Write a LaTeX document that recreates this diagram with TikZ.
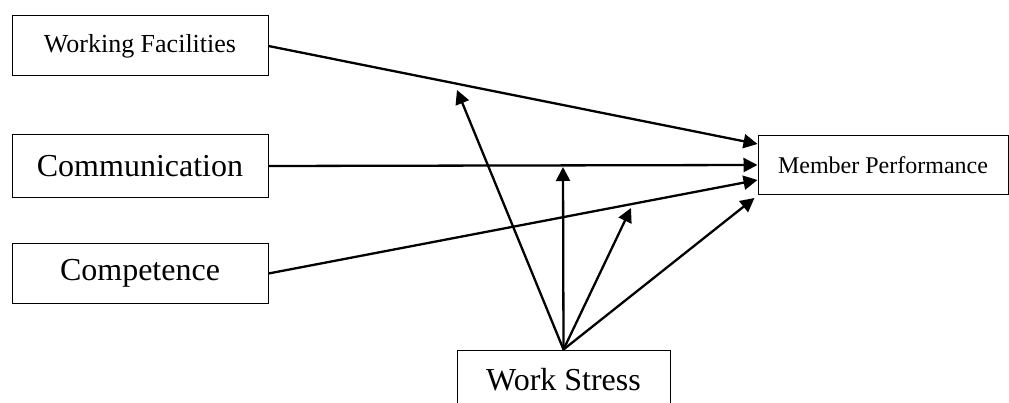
\documentclass[tikz,border=0pt]{standalone}
\usepackage{fontspec}
\setmainfont{Liberation Serif}
\usetikzlibrary{arrows.meta}

\begin{document}
\begin{tikzpicture}[x=1pt,y=-1pt,
		varbox/.style={draw,line width=1pt,inner sep=0pt,align=center},
		bigtext/.style={font=\fontsize{32}{38}\selectfont},
		path/.style={line width=2.3pt,-{Triangle[length=14pt,width=14pt]}}]
	\useasboundingbox (0,0) rectangle (1009,403);
	% variables
	\node[varbox,minimum width=256pt,minimum height=60pt,font=\fontsize{26}{31}\selectfont] (wf) at (140,46) {Working Facilities};
	\node[varbox,bigtext,minimum width=256pt,minimum height=63pt] (comm) at (140,166) {Communication};
	\node[varbox,bigtext,minimum width=256pt,minimum height=59pt] (comp) at (140,273.5) {Competence};
	\node[varbox,minimum width=250pt,minimum height=59pt,font=\fontsize{24}{29}\selectfont] (mp) at (883,165) {Member Performance};
	\node[varbox,bigtext,minimum width=213pt,minimum height=60pt] (ws) at (563.5,380) {Work Stress};
	% moderating ends
	\coordinate (m1) at (457,90);
	\coordinate (m2) at (563,167);
	\coordinate (m3) at (631,208);
	% direct paths
	\draw[path] (wf.east) -- ([yshift=21pt]mp.west);
	\draw[path] (comm.east) -- (mp.west);
	\draw[path] (comp.east) -- ([yshift=-15pt]mp.west);
	\draw[path] (ws.north) -- ([shift={(-3pt,-3pt)}]mp.south west);
	% moderation
	\draw[path] (ws.north) -- (m1);
	\draw[path] (ws.north) -- (m2);
	\draw[path] (ws.north) -- (m3);
\end{tikzpicture}
\end{document}
